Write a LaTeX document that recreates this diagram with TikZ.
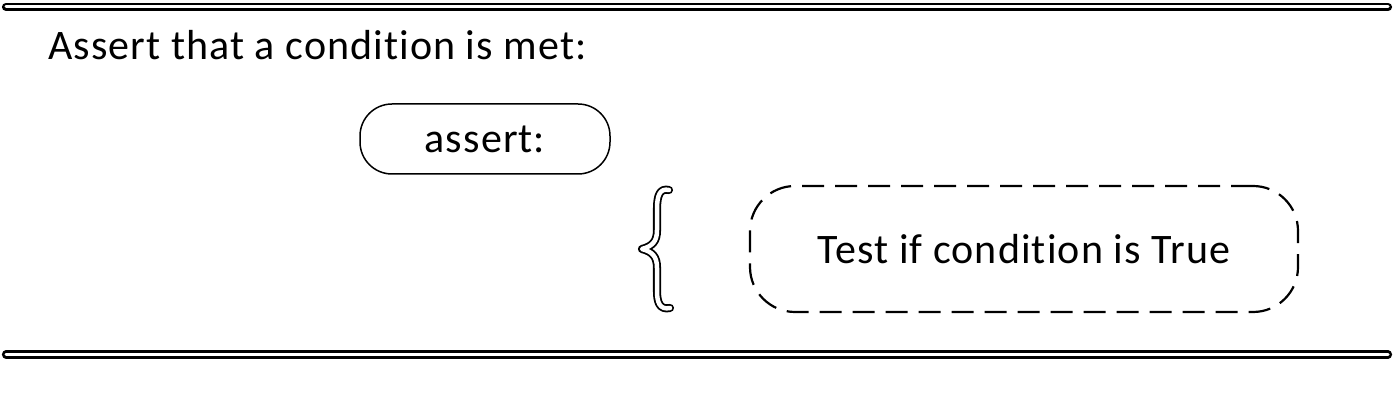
\documentclass[tikz,border=0pt]{standalone}
\usepackage{fontspec}
\setmainfont{Carlito}[Ligatures=NoCommon, LetterSpace=2.6]
\begin{document}
\begin{tikzpicture}[x=1pt,y=1pt,
  bar/.style={double, line width=2.6pt, double distance=3pt, line cap=round},
  lbl/.style={font=\fontsize{42}{50}\selectfont, inner sep=0pt},
  pill/.style={draw, line width=1.5pt, rounded corners=32pt, minimum width=250pt, minimum height=70pt, font=\fontsize{42}{50}\selectfont},
  dpill/.style={draw, line width=2.2pt, dash pattern=on 22pt off 11pt, rounded corners=45pt, minimum width=548pt, minimum height=126pt, font=\fontsize{42}{50}\selectfont}]
\useasboundingbox (0,0) rectangle (1394,-411);
\coordinate (t1) at (6,-7);
\coordinate (t2) at (1388,-7);
\coordinate (b1) at (6,-354.5);
\coordinate (b2) at (1388,-354.5);
\draw[bar] (t1) -- (t2);
\draw[bar] (b1) -- (b2);
\node[lbl, anchor=base west] (title) at (48,-60) {Assert that a condition is met:};
\node[pill] (assert) at (485,-139) {assert:};
\node[dpill] (test) at (1024,-249) {Test if condition is True};
\draw[double, line width=1.8pt, double distance=4.5pt, line cap=round, line join=round]
  (669,-190) .. controls (660,-188) and (657,-195) .. (657,-209) -- (657,-230)
  .. controls (657,-241) and (653,-246) .. (642,-249)
  .. controls (653,-252) and (657,-257) .. (657,-268) -- (657,-291)
  .. controls (657,-303) and (660,-310) .. (670,-308);
\end{tikzpicture}
\end{document}
